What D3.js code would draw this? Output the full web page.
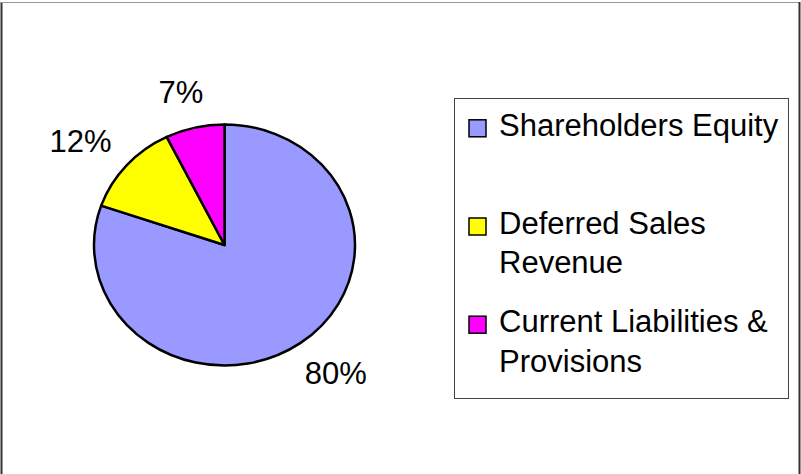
<!DOCTYPE html>
<html>
<head>
<meta charset="utf-8">
<script src="https://cdn.jsdelivr.net/npm/d3@7/dist/d3.min.js"></script>
<style>
  html, body { margin: 0; padding: 0; background: #fff; }
  svg { display: block; }
  text { font-family: "Liberation Sans", Arial, sans-serif; fill: #000; }
</style>
</head>
<body>
<svg id="chart" width="801" height="474"></svg>
<script>
// Balance sheet funding split
const categories = ["Shareholders Equity", "Deferred Sales Revenue", "Current Liabilities & Provisions"];
const values = [80.3, 12.4, 7.3];
const colors = ["#9999FF", "#FFFF00", "#FF00FF"];

const svg = d3.select("#chart");
const W = 801, H = 474;

// Chart frame
svg.append("line").attr("x1", 1.5).attr("y1", 2).attr("x2", 1.5).attr("y2", H)
  .attr("stroke", "#333").attr("stroke-width", 2);
svg.append("line").attr("x1", 1).attr("y1", 2.5).attr("x2", 800).attr("y2", 2.5)
  .attr("stroke", "#999").attr("stroke-width", 1);
svg.append("line").attr("x1", 799.5).attr("y1", 2).attr("x2", 799.5).attr("y2", H)
  .attr("stroke", "#333").attr("stroke-width", 2);

// Pie (slightly wider than tall)
const cx = 224.5, cy = 245, rx = 130.5, ry = 120.5;
const total = d3.sum(values);
const pie = d3.pie().sort(null).value(d => d);
const arcs = pie(values);
const arc = d3.arc().innerRadius(0).outerRadius(ry);

const g = svg.append("g")
  .attr("transform", `translate(${cx},${cy}) scale(${rx / ry},1)`);

g.selectAll("path.slice")
  .data(arcs)
  .join("path")
  .attr("class", "slice")
  .attr("d", arc)
  .attr("fill", (d, i) => colors[i])
  .attr("stroke", "#000")
  .attr("stroke-width", 2.5)
  .attr("stroke-linejoin", "round")
  .attr("vector-effect", "non-scaling-stroke");

// Percentage labels outside the slices
const fontSize = 31;
const lrx = 192, lry = 157;
svg.selectAll("text.pct")
  .data(arcs)
  .join("text")
  .attr("class", "pct")
  .attr("x", d => {
    const a = (d.startAngle + d.endAngle) / 2;
    return cx + lrx * Math.sin(a);
  })
  .attr("y", d => {
    const a = (d.startAngle + d.endAngle) / 2;
    return cy - lry * Math.cos(a) + 11;
  })
  .attr("text-anchor", "middle")
  .attr("font-size", fontSize)
  .text(d => Math.round(d.value / total * 100) + "%");

// Legend
const lg = svg.append("g");
lg.append("rect")
  .attr("x", 454.5).attr("y", 98.5).attr("width", 334).attr("height", 300)
  .attr("fill", "#fff").attr("stroke", "#444").attr("stroke-width", 1);

const textX = 499, wrapW = 286, lineH = 39.3;
const firstBaseline = 135.8, entryStep = 98.2;

categories.forEach((name, i) => {
  const base = firstBaseline + i * entryStep;
  lg.append("rect")
    .attr("x", 469).attr("y", base - 16)
    .attr("width", 17).attr("height", 17)
    .attr("fill", colors[i]).attr("stroke", "#000").attr("stroke-width", 1.5);

  const t = lg.append("text")
    .attr("x", textX).attr("y", base)
    .attr("font-size", fontSize);

  // wrap words to fit the legend box
  const words = name.split(" ");
  let line = [];
  let lineNo = 0;
  let tspan = t.append("tspan").attr("x", textX).attr("y", base);
  words.forEach(w => {
    line.push(w);
    tspan.text(line.join(" "));
    if (tspan.node().getComputedTextLength() > wrapW && line.length > 1) {
      line.pop();
      tspan.text(line.join(" "));
      line = [w];
      lineNo++;
      tspan = t.append("tspan").attr("x", textX).attr("y", base + lineNo * lineH).text(w);
    }
  });
});
</script>
</body>
</html>
